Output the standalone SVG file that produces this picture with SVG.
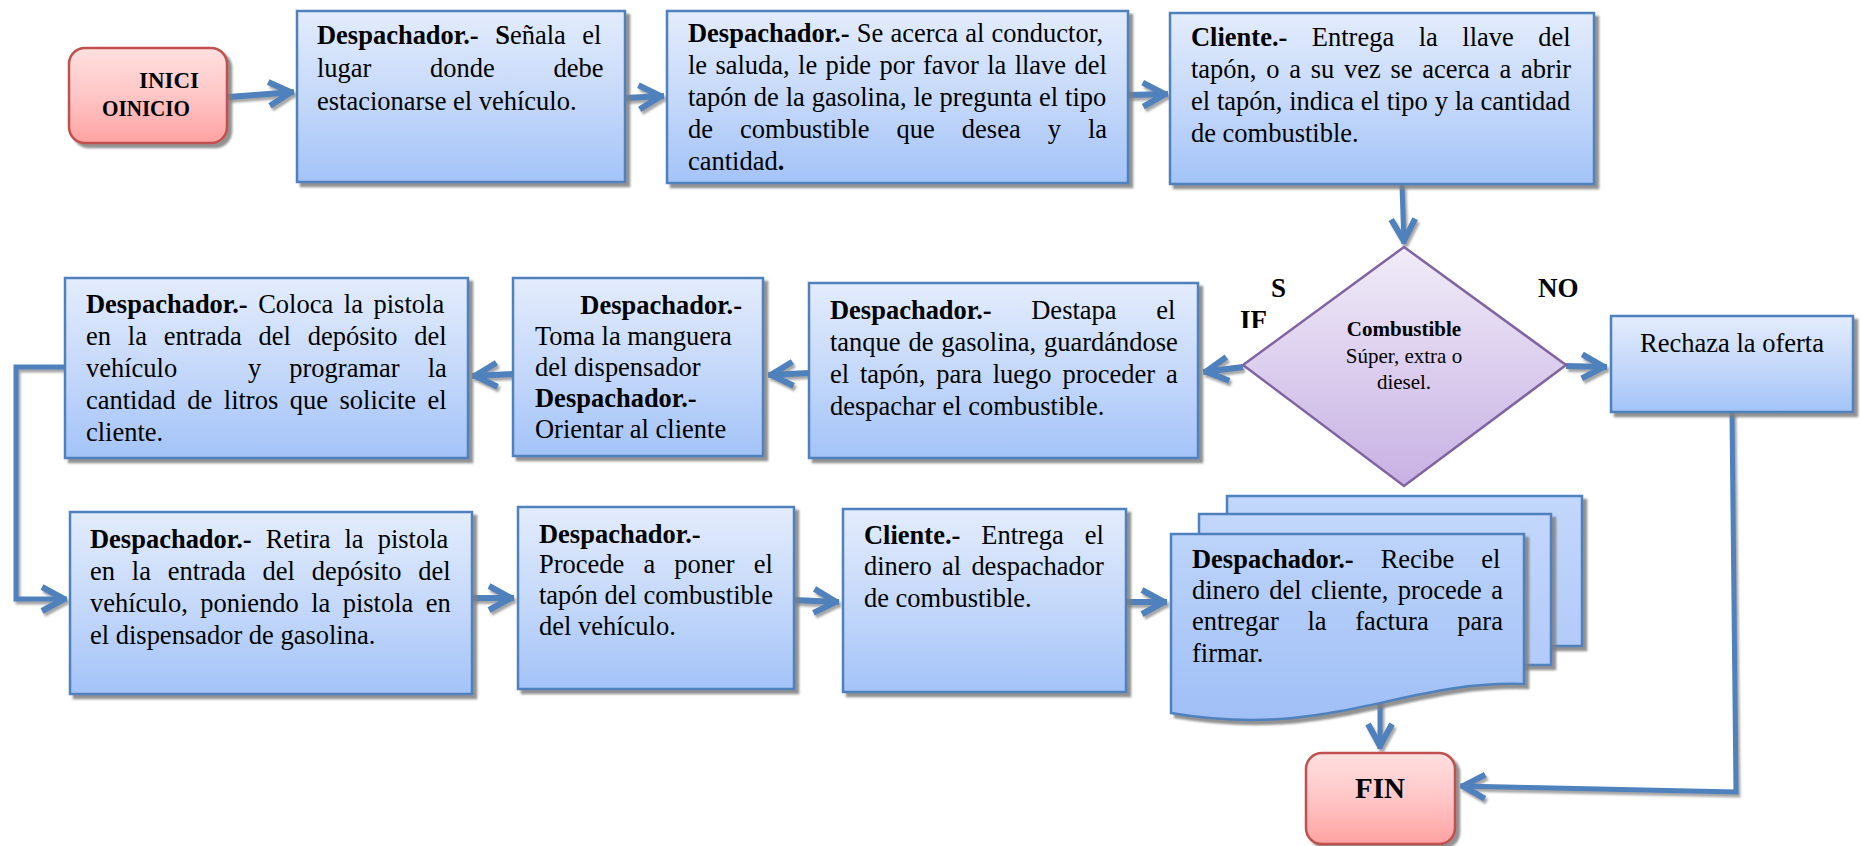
<svg xmlns="http://www.w3.org/2000/svg" width="1861" height="846" viewBox="0 0 1861 846">
<defs>
<style>
.box{fill:url(#gBlue);stroke:#4F81BD;stroke-width:2.5}
.term{fill:url(#gRed);stroke:#C0504D;stroke-width:2.5}
.dia{fill:url(#gPurple);stroke:#8064A2;stroke-width:2.5}
.page{fill:url(#gPage);stroke:#4F81BD;stroke-width:2.5}
.front{fill:url(#gFront);stroke:#4F81BD;stroke-width:2.5}
.t{font-family:"Liberation Serif","Times New Roman",serif;font-size:28px;fill:#000}
.r{font-family:"Liberation Serif","Times New Roman",serif;font-size:26.5px;fill:#000}
.b{font-weight:bold}
.lbl{font-family:"Liberation Serif","Times New Roman",serif;font-size:27px;font-weight:bold;fill:#000}
.sm{font-family:"Liberation Serif","Times New Roman",serif;font-size:21px;fill:#000}
.conn{fill:none;stroke:#4F81BD;stroke-width:6;stroke-linejoin:miter}
.line{fill:none;stroke:#4F81BD;stroke-width:5}
</style>
<linearGradient id="gBlue" x1="0" y1="0" x2="0" y2="1">
<stop offset="0" stop-color="#E3ECFC"/><stop offset="0.5" stop-color="#C6D9FA"/><stop offset="1" stop-color="#A3C3F8"/>
</linearGradient>
<linearGradient id="gRed" x1="0" y1="0" x2="0" y2="1">
<stop offset="0" stop-color="#FFE0E0"/><stop offset="0.5" stop-color="#FFC6C6"/><stop offset="1" stop-color="#FFA2A2"/>
</linearGradient>
<linearGradient id="gPurple" x1="0" y1="0" x2="0" y2="1">
<stop offset="0" stop-color="#F1ECF8"/><stop offset="0.5" stop-color="#DCCEEE"/><stop offset="1" stop-color="#C8B1E3"/>
</linearGradient>
<linearGradient id="gPage" x1="0" y1="0" x2="0" y2="1">
<stop offset="0" stop-color="#C2D7FB"/><stop offset="1" stop-color="#B2CBF8"/>
</linearGradient>
<linearGradient id="gFront" x1="0" y1="0" x2="0" y2="1">
<stop offset="0" stop-color="#BDD4FA"/><stop offset="1" stop-color="#A0BFF6"/>
</linearGradient>
<filter id="sh" x="-5%" y="-5%" width="115%" height="120%">
<feDropShadow dx="4" dy="4" stdDeviation="1" flood-color="#7F7F7F" flood-opacity="0.85"/>
</filter>
<filter id="shL" x="-5%" y="-5%" width="115%" height="115%">
<feDropShadow dx="2" dy="3" stdDeviation="1" flood-color="#808080" flood-opacity="0.7"/>
</filter>
<marker id="ah" viewBox="-28 -18 36 36" markerWidth="36" markerHeight="36" refX="3" refY="0" orient="auto" markerUnits="userSpaceOnUse">
<path d="M-22,-12 L0,0 L-22,12" fill="none" stroke="#4F81BD" stroke-width="6" stroke-linejoin="round"/>
</marker>
<clipPath id="clipIF"><rect x="1230" y="300" width="50" height="28"/></clipPath>
</defs>

<rect width="1861" height="846" fill="#FFFFFF"/>

<g id="connectors" filter="url(#shL)">
<path class="conn" d="M228,97 L294,92" marker-end="url(#ah)"/>
<path class="conn" d="M625,98 L664,96" marker-end="url(#ah)"/>
<path class="conn" d="M1128,95 L1168,94" marker-end="url(#ah)"/>
<path class="line" d="M1402,185 L1404,244" marker-end="url(#ah)"/>
<path class="conn" d="M1243,367 L1203,372" marker-end="url(#ah)"/>
<path class="conn" d="M1566,366 L1607,367" marker-end="url(#ah)"/>
<path class="conn" d="M809,373 L768,375" marker-end="url(#ah)"/>
<path class="conn" d="M513,374 L472,376" marker-end="url(#ah)"/>
<path class="line" d="M65,367 L16,367 L16,599 L67,599" marker-end="url(#ah)"/>
<path class="conn" d="M472,598 L514,598" marker-end="url(#ah)"/>
<path class="conn" d="M794,600 L839,602" marker-end="url(#ah)"/>
<path class="conn" d="M1126,602 L1167,602" marker-end="url(#ah)"/>
<path class="line" d="M1380,700 L1380,749" marker-end="url(#ah)"/>
<path class="line" d="M1732,412 L1736,792 L1460,786" marker-end="url(#ah)"/>
</g>

<g id="inicio">
<rect class="term" x="69" y="48" width="158" height="95" rx="16" filter="url(#sh)"/>
<text class="t b" style="font-size:24px" x="139" y="88" textLength="60" lengthAdjust="spacingAndGlyphs">INICI</text>
<text class="t b" style="font-size:24px" x="102" y="116" textLength="88" lengthAdjust="spacingAndGlyphs">OINICIO</text>
</g>

<g id="n1">
<rect class="box" x="297" y="11" width="328" height="171" filter="url(#sh)"/>
<g transform="translate(317,0) scale(0.946,1) translate(-317,0)">
<text class="t" x="317" y="44" style="word-spacing:10.5px"><tspan class="b">Despachador.-</tspan> <tspan class="b">S</tspan>eñala el</text>
<text class="t" x="317" y="77" style="word-spacing:55px">lugar donde debe</text>
<text class="t" x="317" y="110">estacionarse el vehículo.</text>
</g>
</g>

<g id="n2">
<rect class="box" x="667" y="11" width="461" height="172" filter="url(#sh)"/>
<g transform="translate(688,0) scale(0.946,1) translate(-688,0)">
<text class="t" x="688" y="42" style="word-spacing:0.6px"><tspan class="b">Despachador.-</tspan> Se acerca al conductor,</text>
<text class="t" x="688" y="74" style="word-spacing:1.8px">le saluda, le pide por favor la llave del</text>
<text class="t" x="688" y="106" style="word-spacing:0.3px">tapón de la gasolina, le pregunta el tipo</text>
<text class="t" x="688" y="138" style="word-spacing:21.6px">de combustible que desea y la</text>
<text class="t" x="688" y="170">cantidad<tspan class="b">.</tspan></text>
</g>
</g>

<g id="n3">
<rect class="box" x="1170" y="13" width="424" height="171" filter="url(#sh)"/>
<g transform="translate(1191,0) scale(0.946,1) translate(-1191,0)">
<text class="t" x="1191" y="46" style="word-spacing:18.9px"><tspan class="b">Cliente.-</tspan> Entrega la llave del</text>
<text class="t" x="1191" y="78" style="word-spacing:3.3px">tapón, o a su vez se acerca a abrir</text>
<text class="t" x="1191" y="110" style="word-spacing:0.2px">el tapón, indica el tipo y la cantidad</text>
<text class="t" x="1191" y="142">de combustible.</text>
</g>
</g>

<g id="decision">
<polygon class="dia" points="1404,247 1566,365 1404,486 1243,365"/>
<text class="sm b" x="1404" y="336" text-anchor="middle">Combustible</text>
<text class="sm" x="1404" y="363" text-anchor="middle">Súper, extra o</text>
<text class="sm" x="1404" y="389" text-anchor="middle">diesel.</text>
</g>

<g id="labels">
<text class="lbl" x="1271" y="297">S</text>
<text class="lbl" x="1240" y="329" clip-path="url(#clipIF)">IF</text>
<text class="lbl" x="1538" y="297">NO</text>
</g>

<g id="rechaza">
<rect class="box" x="1611" y="316" width="242" height="96" filter="url(#sh)"/>
<text class="r" x="1732" y="352" text-anchor="middle">Rechaza la oferta</text>
</g>

<g id="n4">
<rect class="box" x="809" y="283" width="389" height="175" filter="url(#sh)"/>
<g transform="translate(830,0) scale(0.946,1) translate(-830,0)">
<text class="t" x="830" y="319" style="word-spacing:34.9px"><tspan class="b">Despachador.-</tspan> Destapa el</text>
<text class="t" x="830" y="351" style="word-spacing:1.3px">tanque de gasolina, guardándose</text>
<text class="t" x="830" y="383" style="word-spacing:4.5px">el tapón, para luego proceder a</text>
<text class="t" x="830" y="415">despachar el combustible.</text>
</g>
</g>

<g id="n5">
<rect class="box" x="513" y="278" width="250" height="178" filter="url(#sh)"/>
<g transform="translate(535,0) scale(0.946,1) translate(-535,0)">
<text class="t b" x="753.8" y="314" text-anchor="end">Despachador.-</text>
<text class="t" x="535" y="345">Toma la manguera</text>
<text class="t" x="535" y="376">del dispensador</text>
<text class="t b" x="535" y="407">Despachador.-</text>
<text class="t" x="535" y="438">Orientar al cliente</text>
</g>
</g>

<g id="n6">
<rect class="box" x="65" y="278" width="403" height="180" filter="url(#sh)"/>
<g transform="translate(86,0) scale(0.946,1) translate(-86,0)">
<text class="t" x="86" y="313" style="word-spacing:4.2px"><tspan class="b">Despachador.-</tspan> Coloca la pistola</text>
<text class="t" x="86" y="345" style="word-spacing:10.8px">en la entrada del depósito del</text>
<text class="t" x="86" y="377">vehículo</text>
<text class="t" x="257.2" y="377" style="word-spacing:22.7px">y programar la</text>
<text class="t" x="86" y="409" style="word-spacing:5.2px">cantidad de litros que solicite el</text>
<text class="t" x="86" y="441">cliente.</text>
</g>
</g>

<g id="n7">
<rect class="box" x="70" y="512" width="402" height="182" filter="url(#sh)"/>
<g transform="translate(90,0) scale(0.946,1) translate(-90,0)">
<text class="t" x="90" y="548" style="word-spacing:7.9px"><tspan class="b">Despachador.-</tspan> Retira la pistola</text>
<text class="t" x="90" y="580" style="word-spacing:10.8px">en la entrada del depósito del</text>
<text class="t" x="90" y="612" style="word-spacing:6.1px">vehículo, poniendo la pistola en</text>
<text class="t" x="90" y="644">el dispensador de gasolina.</text>
</g>
</g>

<g id="n8">
<rect class="box" x="518" y="507" width="276" height="182" filter="url(#sh)"/>
<g transform="translate(539,0) scale(0.946,1) translate(-539,0)">
<text class="t b" x="539" y="543">Despachador.-</text>
<text class="t" x="539" y="573" style="word-spacing:13.2px">Procede a poner el</text>
<text class="t" x="539" y="604">tapón del combustible</text>
<text class="t" x="539" y="635">del vehículo.</text>
</g>
</g>

<g id="n9">
<rect class="box" x="843" y="509" width="283" height="183" filter="url(#sh)"/>
<g transform="translate(864,0) scale(0.946,1) translate(-864,0)">
<text class="t" x="864" y="544" style="word-spacing:15.2px"><tspan class="b">Cliente.-</tspan> Entrega el</text>
<text class="t" x="864" y="575" style="word-spacing:3.9px">dinero al despachador</text>
<text class="t" x="864" y="607">de combustible.</text>
</g>
</g>

<g id="n10">
<rect class="page" x="1227" y="496" width="355" height="150" filter="url(#sh)"/>
<rect class="page" x="1199" y="514" width="352" height="151" filter="url(#sh)"/>
<path class="front" d="M1171,534 H1524 V684 C1400,680 1330,740 1171,713 Z" filter="url(#sh)"/>
<g transform="translate(1192,0) scale(0.946,1) translate(-1192,0)">
<text class="t" x="1192" y="568" style="word-spacing:21.6px"><tspan class="b">Despachador.-</tspan> Recibe el</text>
<text class="t" x="1192" y="599" style="word-spacing:3.1px">dinero del cliente, procede a</text>
<text class="t" x="1192" y="630" style="word-spacing:23.3px">entregar la factura para</text>
<text class="t" x="1192" y="662">firmar.</text>
</g>
</g>

<g id="fin">
<rect class="term" x="1306" y="753" width="149" height="91" rx="16" filter="url(#sh)"/>
<text class="t b" style="font-size:29px" x="1380" y="798" text-anchor="middle">FIN</text>
</g>
</svg>
